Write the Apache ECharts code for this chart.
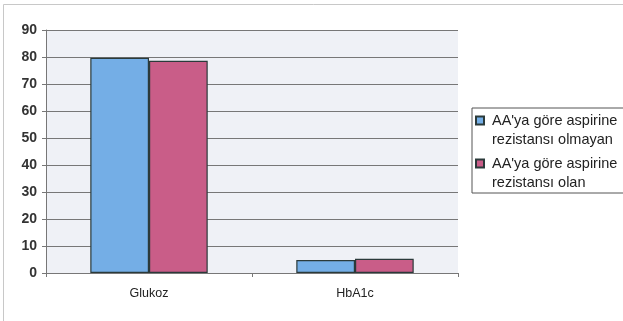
<!DOCTYPE html>
<html>
<head>
<meta charset="utf-8">
<script src="https://cdn.jsdelivr.net/npm/echarts@6/dist/echarts.min.js"></script>
<style>
  html, body { margin: 0; padding: 0; background: #fff; }
  #chart { width: 623px; height: 321px; }
</style>
</head>
<body>
<div id="chart"></div>
<script>
// kategoriler ve seriler
const categories = ["Glukoz", "HbA1c"];
const seriesNames = ["AA'ya göre aspirine\nrezistansı olmayan", "AA'ya göre aspirine\nrezistansı olan"];
const olmayan = [79.7, 4.8];
const olan = [78.6, 5.3];

// kare ikon, ilk satira hizali (altta bos bir nokta ile)
const legendIcon = "path://M0,0h8v8h-8z M0,27";

const myChart = echarts.init(document.getElementById("chart"));
myChart.setOption({
  animation: false,
  backgroundColor: "#fff",
  graphic: [
    {
      type: "rect",
      shape: { x: 3.5, y: 4.5, width: 640, height: 330 },
      style: { fill: "none", stroke: "#c8c8c8", lineWidth: 1 }
    }
  ],
  legend: {
    orient: "vertical",
    left: 472,
    top: 108,
    padding: [3, 8, 1, 3],
    itemGap: 5,
    itemWidth: 8,
    itemHeight: 27,
    icon: legendIcon,
    borderColor: "#555",
    borderWidth: 1,
    backgroundColor: "#fff",
    textStyle: {
      fontFamily: "Liberation Sans",
      fontSize: 14.5,
      color: "#222",
      lineHeight: 19,
      padding: [0, 0, 0, 3]
    },
    data: seriesNames
  },
  grid: {
    left: 46,
    right: 165,
    top: 30,
    bottom: 48,
    show: true,
    backgroundColor: "#eff1f6",
    borderWidth: 0
  },
  xAxis: {
    type: "category",
    data: categories,
    axisLine: { lineStyle: { color: "#777" } },
    axisTick: { show: true, length: 4, lineStyle: { color: "#777" } },
    axisLabel: {
      margin: 14,
      fontFamily: "Liberation Sans",
      fontSize: 12.5,
      color: "#222"
    }
  },
  yAxis: {
    type: "value",
    min: 0,
    max: 90,
    interval: 10,
    axisLine: { show: true, lineStyle: { color: "#777" } },
    axisTick: { show: true, length: 4, lineStyle: { color: "#777" } },
    splitLine: { lineStyle: { color: "#777" } },
    axisLabel: {
      margin: 9,
      fontFamily: "Liberation Sans",
      fontSize: 14,
      fontWeight: "bold",
      color: "#333"
    }
  },
  series: [
    {
      name: seriesNames[0],
      type: "bar",
      data: olmayan,
      barGap: "0%",
      barCategoryGap: "43%",
      itemStyle: { color: "#74aee6", borderColor: "#2b3a3a", borderWidth: 1.2 }
    },
    {
      name: seriesNames[1],
      type: "bar",
      data: olan,
      itemStyle: { color: "#c95d88", borderColor: "#2b3a3a", borderWidth: 1.2 }
    }
  ]
});
</script>
</body>
</html>
